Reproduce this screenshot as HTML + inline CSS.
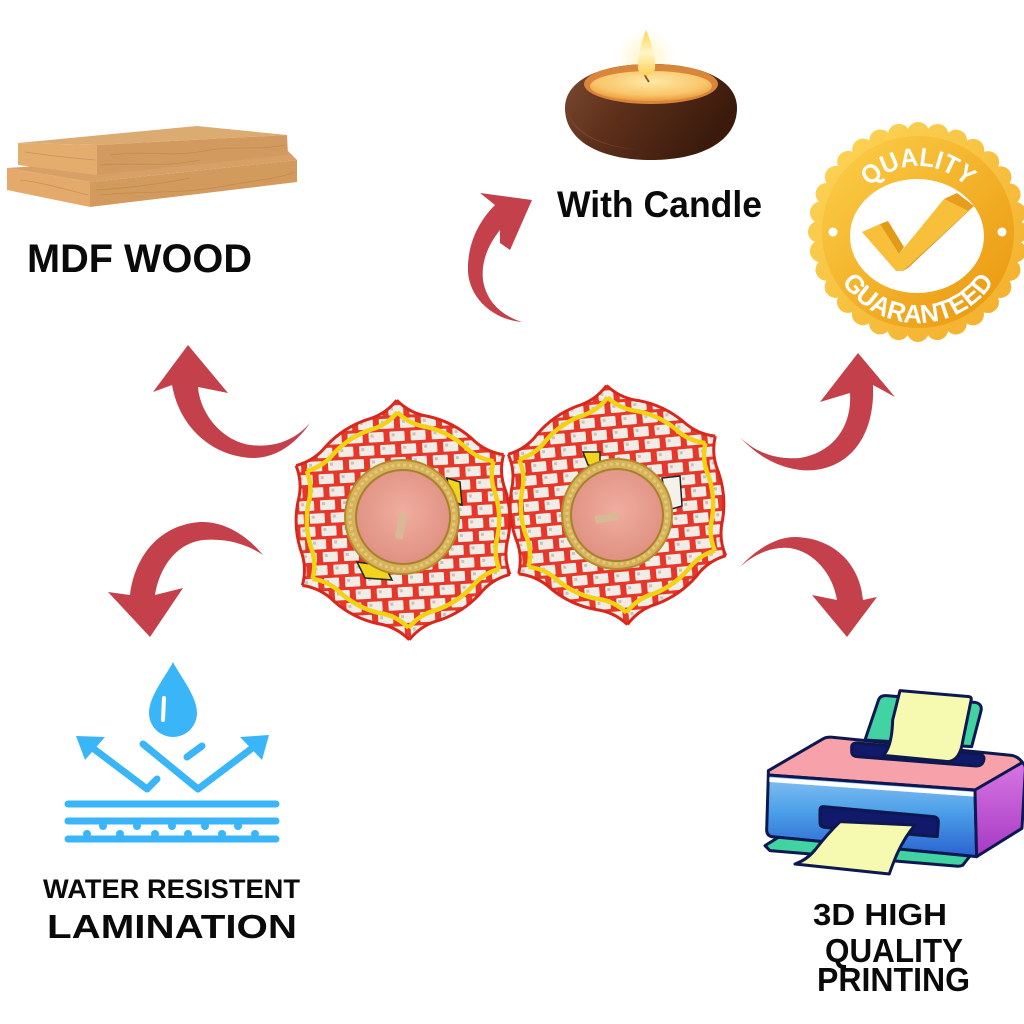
<!DOCTYPE html>
<html>
<head>
<meta charset="utf-8">
<style>
  html,body{margin:0;padding:0;background:#fff;}
  svg{display:block;}
  .t{font-family:"Liberation Sans",Arial,sans-serif;font-weight:bold;fill:#0a0a0a;}
</style>
</head>
<body>
<svg width="1024" height="1024" viewBox="0 0 1024 1024" xmlns="http://www.w3.org/2000/svg">
<defs>
  <pattern id="pat" patternUnits="userSpaceOnUse" width="21" height="26">
    <rect width="21" height="26" fill="#e5372a"/>
    <rect x="2" y="2" width="15" height="10" rx="1" fill="#f1ece6"/>
    <rect x="4" y="4" width="3" height="3" fill="#c9c2bb"/>
    <rect x="12" y="15" width="15" height="10" rx="1" fill="#f1ece6"/>
    <rect x="-9" y="15" width="15" height="10" rx="1" fill="#f1ece6"/>
    <rect x="14" y="17" width="3" height="3" fill="#c9c2bb"/>
  </pattern>
  <path id="wedge" d="M0,0 L0,-120 Q12.6,-105.8 31.2,-102 Q55,-95.2 72.7,-78 Q85.3,-63.8 103.9,-60 Z"/>
  <path id="edge" d="M0,-120 Q12.6,-105.8 31.2,-102 Q55,-95.2 72.7,-78 Q85.3,-63.8 103.9,-60"/>
  <clipPath id="lotus">
    <use href="#wedge"/>
    <use href="#wedge" transform="rotate(60)"/>
    <use href="#wedge" transform="rotate(120)"/>
    <use href="#wedge" transform="rotate(180)"/>
    <use href="#wedge" transform="rotate(240)"/>
    <use href="#wedge" transform="rotate(300)"/>
  </clipPath>
  <g id="edges">
    <use href="#edge"/>
    <use href="#edge" transform="rotate(60)"/>
    <use href="#edge" transform="rotate(120)"/>
    <use href="#edge" transform="rotate(180)"/>
    <use href="#edge" transform="rotate(240)"/>
    <use href="#edge" transform="rotate(300)"/>
  </g>
  <radialGradient id="wax" cx="0.5" cy="0.45" r="0.6">
    <stop offset="0" stop-color="#f0ad9f"/>
    <stop offset="1" stop-color="#de8f7f"/>
  </radialGradient>
  <linearGradient id="bowl" x1="0" y1="0" x2="1" y2="0.4">
    <stop offset="0" stop-color="#7d4a32"/>
    <stop offset="0.45" stop-color="#5c2f1a"/>
    <stop offset="1" stop-color="#3b1a0c"/>
  </linearGradient>
  <radialGradient id="candlewax" cx="0.5" cy="0.35" r="0.65">
    <stop offset="0" stop-color="#ffe9a6"/>
    <stop offset="0.7" stop-color="#f9c56a"/>
    <stop offset="1" stop-color="#ec9a3c"/>
  </radialGradient>
  <radialGradient id="glow" cx="0.5" cy="0.5" r="0.5">
    <stop offset="0" stop-color="#fff3c4" stop-opacity="0.9"/>
    <stop offset="1" stop-color="#fff3c4" stop-opacity="0"/>
  </radialGradient>
  <linearGradient id="flame" x1="0" y1="0" x2="0" y2="1">
    <stop offset="0" stop-color="#ffd24a"/>
    <stop offset="0.5" stop-color="#fff6c8"/>
    <stop offset="1" stop-color="#ffcf55"/>
  </linearGradient>
  <linearGradient id="gold" x1="0" y1="0" x2="1" y2="1">
    <stop offset="0" stop-color="#fdd04a"/>
    <stop offset="1" stop-color="#e9950c"/>
  </linearGradient>
  <linearGradient id="goldScal" x1="0" y1="0" x2="1" y2="1">
    <stop offset="0" stop-color="#fdd558"/>
    <stop offset="1" stop-color="#f2ae2a"/>
  </linearGradient>
  <linearGradient id="blueFront" x1="0" y1="0" x2="0" y2="1">
    <stop offset="0" stop-color="#86c2f2"/>
    <stop offset="0.45" stop-color="#4c9fe9"/>
    <stop offset="1" stop-color="#2a62cf"/>
  </linearGradient>
  <linearGradient id="purple" x1="0" y1="0" x2="0" y2="1">
    <stop offset="0" stop-color="#d875e3"/>
    <stop offset="1" stop-color="#a53ac3"/>
  </linearGradient>
</defs>

<!-- ============ WOOD PLANKS ============ -->
<g stroke="none">
  <polygon points="7,168 287,150 297,160 90,182" fill="#d8a066"/>
  <polygon points="7,168 90,182 90,207 7,190" fill="#e3aa6c"/>
  <polygon points="90,182 297,160 297,182 90,207" fill="#d39a5e"/>
  <polygon points="18,143 197,126 287,135 97,145" fill="#dcab72"/>
  <polygon points="18,143 97,145 97,175 18,165" fill="#e4ad6e"/>
  <polygon points="97,145 287,135 288,155 97,175" fill="#d29a5e"/>
  <g fill="none" stroke="#b98148" stroke-width="0.8" opacity="0.6">
    <path d="M110,155 C150,150 170,158 210,150 C240,146 260,150 285,145"/>
    <path d="M100,165 C140,162 160,168 200,160"/>
    <path d="M100,195 C150,190 180,195 230,185 C260,180 280,178 295,172"/>
    <path d="M95,190 C130,188 160,184 190,178"/>
    <path d="M20,180 C40,182 60,188 88,195"/>
    <path d="M25,152 C45,155 70,158 95,160"/>
  </g>
</g>
<text class="t" x="27" y="272" font-size="40" textLength="225" lengthAdjust="spacingAndGlyphs">MDF WOOD</text>

<!-- ============ CANDLE ============ -->
<circle cx="646" cy="58" r="30" fill="url(#glow)"/>
<path d="M565,108 C565,80 600,64 651,64 C702,64 737,80 737,108 C737,142 700,160 651,160 C602,160 565,142 565,108 Z" fill="url(#bowl)"/>
<path d="M568,112 C575,135 610,150 651,150 C600,150 572,132 568,112 Z" fill="#8a5a44" opacity="0.5"/>
<ellipse cx="651" cy="84" rx="67" ry="20" fill="#d9863a"/>
<ellipse cx="651" cy="86" rx="61" ry="15" fill="url(#candlewax)"/>
<path d="M642,66 C643,72 646,78 649,82" stroke="#8a5a30" stroke-width="2" fill="none"/>
<path d="M646,30 C652,44 656,58 655,68 C654,78 639,78 638,68 C637,58 641,44 646,30 Z" fill="url(#flame)"/>
<text class="t" x="557" y="217" font-size="37" textLength="205" lengthAdjust="spacingAndGlyphs">With Candle</text>

<!-- ============ QUALITY BADGE ============ -->
<g>
  <circle cx="918" cy="232" r="99" fill="url(#goldScal)"/>
  <circle cx="918" cy="232" r="99" fill="none" stroke="url(#goldScal)" stroke-width="22" stroke-linecap="round" stroke-dasharray="0 19.44"/>
  <circle cx="918" cy="232" r="96" fill="url(#gold)"/>
  <ellipse cx="917" cy="236" rx="67" ry="57" fill="#ffffff"/>
  <circle cx="833" cy="232" r="4.5" fill="#fff"/>
  <circle cx="1002" cy="232" r="4.5" fill="#fff"/>
  <path id="arcTop" d="M852,232 A66,66 0 0 1 984,232" fill="none"/>
  <path id="arcBot" d="M827,232 A91,91 0 0 0 1009,232" fill="none"/>
  <text font-family="Liberation Sans, Arial, sans-serif" font-weight="bold" font-size="26" fill="#fff">
    <textPath href="#arcTop" startOffset="50%" text-anchor="middle" textLength="108" lengthAdjust="spacingAndGlyphs">QUALITY</textPath>
  </text>
  <text font-family="Liberation Sans, Arial, sans-serif" font-weight="bold" font-size="26" fill="#fff">
    <textPath href="#arcBot" startOffset="50%" text-anchor="middle" textLength="180" lengthAdjust="spacingAndGlyphs">GUARANTEED</textPath>
  </text>
  <polygon points="862,232 880,224 899,254 944,199 968,211 903,271 896,271" fill="#f7bf3a"/>
  <polygon points="880,224 888,221 904,247 899,254" fill="#e39a17"/>
  <polygon points="944,199 957,193 974,206 968,211" fill="#e89d1c"/>
  <polygon points="968,211 974,206 908,268 903,271" fill="#dd8f10"/>
</g>

<!-- ============ ARROWS ============ -->
<g fill="#c4404a">
  <path d="M310,423 C295,445 275,458 253,458 C215,457 180,430 172,385 L153,392 L188,345 L228,393 L198,387 C200,412 220,440 250,445 C275,448 295,440 310,423 Z"/>
  <path d="M263,555 C245,533 222,521 200,522 C160,525 135,555 130,595 L108,592 L150,637 L183,588 L155,595 C160,565 178,543 203,540 C228,538 248,545 263,555 Z"/>
  <path d="M522,322 C495,320 470,300 468,272 C467,245 478,222 495,205 L480,193 L532,200 L510,250 L500,243 L500,230 C488,245 481,262 483,280 C486,300 500,315 522,322 Z"/>
  <path d="M740,437 C765,465 795,472 815,470 C855,465 875,430 873,385 L895,397 L858,353 L820,402 L850,393 C852,425 835,452 800,458 C775,460 755,452 740,437 Z"/>
  <path d="M740,567 C760,545 780,537 795,537 C835,538 860,565 863,600 L877,597 L847,637 L812,595 L837,600 C833,575 815,552 790,548 C770,546 752,556 740,567 Z"/>
</g>

<!-- ============ PRODUCT (two lotus pieces) ============ -->
<g transform="translate(403,520) rotate(-3)">
  <rect x="-130" y="-130" width="260" height="260" fill="url(#pat)" clip-path="url(#lotus)"/>
  <use href="#edges" fill="none" stroke="#d8281d" stroke-width="3"/>
  <g transform="scale(0.9)"><use href="#edges" fill="none" stroke="#f3d214" stroke-width="5"/></g>
</g>
<g transform="translate(617,505) rotate(-5)">
  <rect x="-130" y="-130" width="260" height="260" fill="url(#pat)" clip-path="url(#lotus)"/>
  <use href="#edges" fill="none" stroke="#d8281d" stroke-width="3"/>
  <g transform="scale(0.9)"><use href="#edges" fill="none" stroke="#f3d214" stroke-width="5"/></g>
</g>
<path d="M357,562 L385,566 L392,580 L365,578 Z" fill="#f2d41c" stroke="#222" stroke-width="1.5"/>
<path d="M447,478 L460,482 L462,505 L450,500 Z" fill="#f2d41c" stroke="#222" stroke-width="1.5"/>
<path d="M583,452 L600,452 L600,468 L588,465 Z" fill="#f2d41c" stroke="#222" stroke-width="1.5"/>
<path d="M662,478 L680,476 L682,506 L668,510 Z" fill="#f4f0ea" stroke="#222" stroke-width="1.5"/>
<circle cx="402" cy="517" r="57" fill="#d6b25a"/>
<circle cx="402" cy="517" r="57" fill="none" stroke="#b48a2e" stroke-width="2"/>
<circle cx="402" cy="517" r="52" fill="none" stroke="#e6c978" stroke-width="3" stroke-dasharray="3 3"/>
<circle cx="403" cy="517" r="47" fill="url(#wax)" stroke="#a8802f" stroke-width="2"/>
<rect x="397" y="513" width="8" height="26" rx="2" fill="#d9b896" transform="rotate(10 401 526)"/>
<circle cx="617" cy="514" r="55" fill="#d6b25a"/>
<circle cx="617" cy="514" r="55" fill="none" stroke="#b48a2e" stroke-width="2"/>
<circle cx="617" cy="514" r="50" fill="none" stroke="#e6c978" stroke-width="3" stroke-dasharray="3 3"/>
<circle cx="617" cy="515" r="46" fill="url(#wax)" stroke="#a8802f" stroke-width="2"/>
<rect x="595" y="514" width="23" height="8" rx="2" fill="#d9b896" transform="rotate(-10 606 518)"/>

<!-- ============ WATER ICON ============ -->
<path d="M173,662 C180,676 197,696 197,713 A24,24 0 0 1 149,713 C149,696 166,676 173,662 Z" fill="#3ab5f7"/>
<path d="M164,698 L163,720" stroke="#fff" stroke-width="4" stroke-linecap="round" fill="none"/>
<g stroke="#3ab5f7" stroke-width="7" stroke-linecap="round" stroke-linejoin="round" fill="none">
  <path d="M157,779 L147,789 L90,746"/>
  <path d="M143,744 L198,789 L255,746"/>
  <path d="M187,757 L202,746"/>
  <path d="M68,804 L276,804"/>
  <path d="M68,821 L276,821"/>
  <path d="M68,839 L276,839"/>
</g>
<g fill="#3ab5f7">
  <polygon points="76,736 105,737 85,760"/>
  <polygon points="269,735 240,737 262,760"/>
  <circle cx="103" cy="826" r="4"/><circle cx="137" cy="826" r="4"/><circle cx="172" cy="826" r="4"/><circle cx="205" cy="826" r="4"/><circle cx="238" cy="826" r="4"/>
  <circle cx="87" cy="834" r="4"/><circle cx="120" cy="834" r="4"/><circle cx="155" cy="834" r="4"/><circle cx="188" cy="834" r="4"/><circle cx="222" cy="834" r="4"/><circle cx="255" cy="834" r="4"/>
</g>
<text class="t" x="43" y="898" font-size="27" textLength="257" lengthAdjust="spacingAndGlyphs">WATER RESISTENT</text>
<text class="t" x="47" y="938" font-size="33" textLength="250" lengthAdjust="spacingAndGlyphs">LAMINATION</text>

<!-- ============ PRINTER ============ -->
<g transform="translate(740,680) scale(0.3333)" stroke="#0d1850" stroke-width="9" stroke-linejoin="round">
  <path d="M375,180 L415,62 Q420,45 440,47 L705,67 Q730,72 722,97 L695,200 Z" fill="#42d3a2"/>
  <path d="M85,272 L250,176 Q262,170 280,172 L815,226 Q835,230 848,248 L705,330 L85,285 Z" fill="#f7a2aa"/>
  <path d="M335,202 Q335,188 352,189 L718,222 Q736,226 731,242 Q726,259 708,258 L352,230 Q335,228 335,214 Z" fill="#10196a"/>
  <path d="M480,32 L688,50 Q696,52 693,62 L668,185 Q660,240 625,245 L430,226 Q456,200 458,120 Z" fill="#f6fab0"/>
  <path d="M85,285 L705,330 L710,530 L95,470 Q80,466 80,450 Z" fill="url(#blueFront)"/>
  <path d="M88,292 L703,336 L703,350 L88,306 Z" fill="#ffffff" stroke="none"/>
  <path d="M705,330 L846,248 Q858,252 856,272 L846,445 L710,530 Z" fill="url(#purple)"/>
  <path d="M250,380 L580,410 Q596,412 595,428 L592,470 L252,442 Q240,440 240,428 L240,392 Q240,380 250,380 Z" fill="#10196a"/>
  <path d="M75,497 L115,472 L690,528 L668,556 Q660,560 645,558 L90,512 Z" fill="#42d3a2"/>
  <path d="M300,425 L525,435 Q495,470 472,520 Q455,560 448,582 L165,552 Q200,540 225,510 Q262,462 300,425 Z" fill="#f6fab0"/>
</g>
<text class="t" x="813" y="925" font-size="31" textLength="134" lengthAdjust="spacingAndGlyphs">3D HIGH</text>
<text class="t" x="825" y="962" font-size="33" textLength="138" lengthAdjust="spacingAndGlyphs">QUALITY</text>
<text class="t" x="817" y="991" font-size="33" textLength="153" lengthAdjust="spacingAndGlyphs">PRINTING</text>
</svg>
</body>
</html>
